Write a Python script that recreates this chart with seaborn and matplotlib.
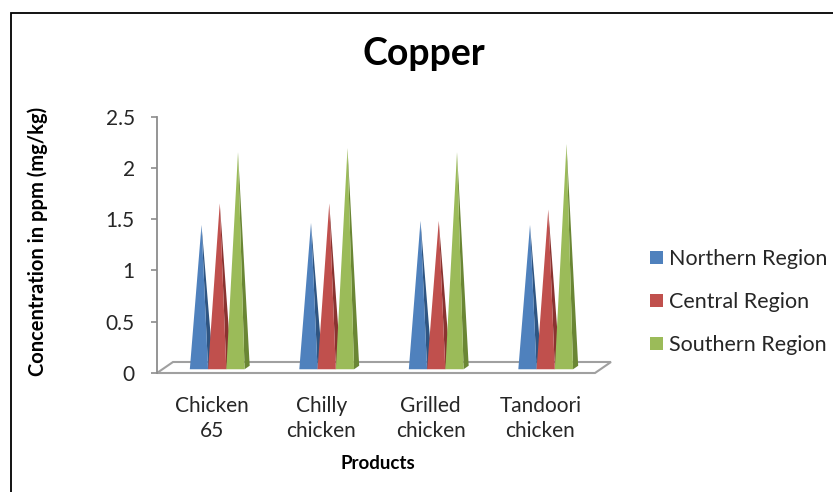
#Copper concentration in chicken products - 3D pyramid style bar chart
import pandas as pd
import numpy as np
import matplotlib
matplotlib.use("Agg")
import matplotlib.pyplot as plt
from matplotlib.patches import Polygon, Patch, Rectangle
import seaborn as sns

products = ["Chicken\n65", "Chilly\nchicken", "Grilled\nchicken", "Tandoori\nchicken"]
regions = ["Northern Region", "Central Region", "Southern Region"]
northern = [1.39, 1.41, 1.43, 1.39]
central = [1.60, 1.60, 1.43, 1.54]
southern = [2.10, 2.14, 2.10, 2.18]
yticks = [0, 0.5, 1, 1.5, 2, 2.5]

front_colors = ["#4F81BD", "#C0504D", "#9BBB59"]
side_colors = ["#2F5582", "#8A3330", "#6A8634"]

df = pd.DataFrame({
    "product": products * 3,
    "region": np.repeat(regions, len(products)),
    "value": northern + central + southern,
})

sns.set_style("white")
plt.rcParams["font.family"] = ["Lato", "DejaVu Sans"]

fig = plt.figure(figsize=(8.33, 4.92), dpi=100)
ax = fig.add_axes([157 / 833, 119 / 492, 438 / 833, 256.3 / 492])

sns.barplot(data=df, x="product", y="value", hue="region", palette=front_colors,
            width=0.5, errorbar=None, legend=False, ax=ax)
ax.set_xlim(-0.5, 3.5)
ax.set_ylim(0, 2.5)

#depth of the 3d floor in data units (16px right, 11px up)
DX = 16 / 109.5
DY = 11 / 102.5
a, b = 0.34, 0.66

#turn each bar into a pyramid
for k, cont in enumerate(ax.containers):
    for bar in cont:
        x0 = bar.get_x()
        x1 = x0 + bar.get_width()
        xc = (x0 + x1) / 2
        v = bar.get_height()
        bar.set_visible(False)
        fl = (x0 + a * DX, a * DY)
        fr = (x1 + a * DX, a * DY)
        br = (x1 + b * DX, b * DY)
        apex = (xc + 0.5 * DX, v + 0.5 * DY)
        ax.add_patch(Polygon([fr, br, apex], closed=True, fc=side_colors[k],
                             ec="none", zorder=4, clip_on=False))
        ax.add_patch(Polygon([fl, fr, apex], closed=True, fc=front_colors[k],
                             ec="none", zorder=5, clip_on=False))

#floor
xmin, xmax = ax.get_xlim()
floor = Polygon([(xmin, 0), (xmax, 0), (xmax + DX, DY), (xmin + DX, DY)],
                closed=True, fc="white", ec="#A0A0A0", lw=1.5, zorder=2, clip_on=False)
ax.add_patch(floor)

sns.despine(ax=ax, top=True, right=True, bottom=True)
ax.spines["left"].set_color("#8C8C8C")
ax.spines["left"].set_linewidth(1.3)
ax.set_yticks(yticks)
ax.set_yticklabels(["0", "0.5", "1", "1.5", "2", "2.5"])
ax.tick_params(axis="y", direction="out", length=4, width=1.2, color="#8C8C8C",
               pad=12, labelsize=15, labelcolor="#262626", left=True)
ax.tick_params(axis="x", length=0, pad=16.5, labelsize=15, labelcolor="#262626")
for lab in ax.get_xticklabels():
    lab.set_linespacing(1.3)

ax.set_ylabel("Concentration in ppm (mg/kg)", fontsize=14.5, fontweight="bold", color="black")
ax.yaxis.set_label_coords(-0.249, 0.513)
ax.set_xlabel("Products", fontsize=13.5, fontweight="bold", color="black")
ax.xaxis.set_label_coords(0.5046, -0.318)

fig.text(424 / 833, 1 - 65 / 492, "Copper", ha="center", va="baseline",
         fontsize=27, fontweight="bold", color="black")

handles = [Patch(fc=c, ec="none") for c in front_colors]
fig.legend(handles, regions, loc="center left", bbox_to_anchor=(641 / 833, 1 - 302 / 492),
           frameon=False, fontsize=15.5, handlelength=0.6, handleheight=0.6,
           handletextpad=0.3, labelspacing=1.07, borderaxespad=0, labelcolor="#262626")

#chart border
fig.add_artist(Rectangle((11 / 833, -0.1), 1.0, 1.1 - 13 / 492, transform=fig.transFigure,
                         fill=False, ec="black", lw=1.3))

fig.savefig("out.png", dpi=100)
